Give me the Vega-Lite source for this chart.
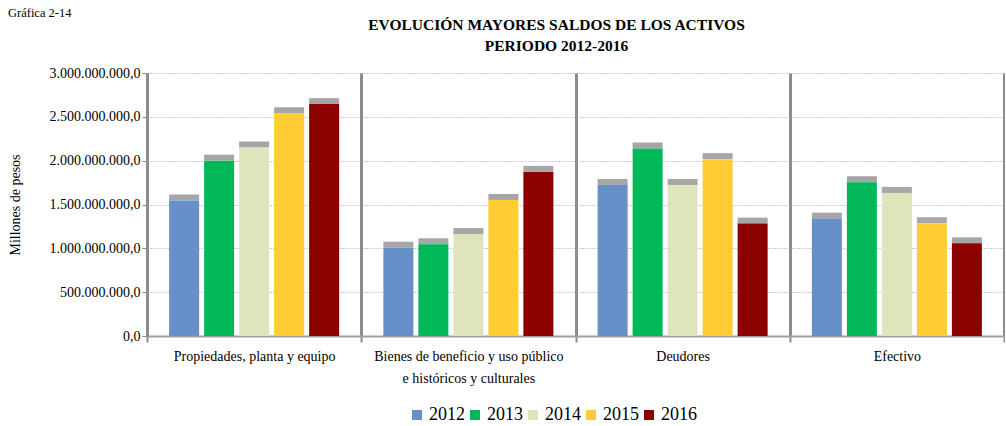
{
  "$schema": "https://vega.github.io/schema/vega-lite/v6.json",
  "background": "white",
  "padding": {"left": 8, "top": 7, "right": 0, "bottom": 0},
  "config": {
    "font": "Liberation Serif",
    "locale": {"number": {"decimal": ",", "thousands": ".", "grouping": [3], "currency": ["$", ""]}},
    "view": {"stroke": null}
  },
  "title": {"text": "Gráfica 2-14", "anchor": "start", "frame": "bounds", "font": "Liberation Serif", "fontSize": 12.5, "fontWeight": "normal", "color": "black", "offset": -2},
  "vconcat": [
    {
      "width": 857,
      "height": 263,
      "title": {
        "text": ["EVOLUCIÓN MAYORES SALDOS DE LOS ACTIVOS", "PERIODO 2012-2016"],
        "anchor": "middle",
        "font": "Liberation Serif",
        "fontSize": 15.5,
        "fontWeight": "bold",
        "color": "black",
        "lineHeight": 21,
        "dx": -19,
        "offset": 12
      },
      "data": {
        "values": [
          {"categoria": "Propiedades, planta y equipo", "anio": "2012", "valor": 1546000000},
          {"categoria": "Propiedades, planta y equipo", "anio": "2013", "valor": 2000000000},
          {"categoria": "Propiedades, planta y equipo", "anio": "2014", "valor": 2150000000},
          {"categoria": "Propiedades, planta y equipo", "anio": "2015", "valor": 2540000000},
          {"categoria": "Propiedades, planta y equipo", "anio": "2016", "valor": 2645000000},
          {"categoria": "Bienes de beneficio y uso público e históricos y culturales", "anio": "2012", "valor": 1008000000},
          {"categoria": "Bienes de beneficio y uso público e históricos y culturales", "anio": "2013", "valor": 1046000000},
          {"categoria": "Bienes de beneficio y uso público e históricos y culturales", "anio": "2014", "valor": 1163000000},
          {"categoria": "Bienes de beneficio y uso público e históricos y culturales", "anio": "2015", "valor": 1552000000},
          {"categoria": "Bienes de beneficio y uso público e históricos y culturales", "anio": "2016", "valor": 1872000000},
          {"categoria": "Deudores", "anio": "2012", "valor": 1723000000},
          {"categoria": "Deudores", "anio": "2013", "valor": 2139000000},
          {"categoria": "Deudores", "anio": "2014", "valor": 1723000000},
          {"categoria": "Deudores", "anio": "2015", "valor": 2017000000},
          {"categoria": "Deudores", "anio": "2016", "valor": 1282000000},
          {"categoria": "Efectivo", "anio": "2012", "valor": 1339000000},
          {"categoria": "Efectivo", "anio": "2013", "valor": 1754000000},
          {"categoria": "Efectivo", "anio": "2014", "valor": 1632000000},
          {"categoria": "Efectivo", "anio": "2015", "valor": 1286000000},
          {"categoria": "Efectivo", "anio": "2016", "valor": 1057000000}
        ]
      },
      "encoding": {
        "x": {
          "field": "categoria",
          "type": "nominal",
          "sort": ["Propiedades, planta y equipo", "Bienes de beneficio y uso público e históricos y culturales", "Deudores", "Efectivo"],
          "scale": {"paddingInner": 0, "paddingOuter": 0},
          "axis": {
            "title": null,
            "labelAngle": 0,
            "labelFont": "Liberation Serif",
            "labelFontSize": 14,
            "labelColor": "black",
            "labelLimit": 0,
            "labelPadding": 7,
            "labelLineHeight": 22,
            "labelExpr": "datum.value == 'Bienes de beneficio y uso público e históricos y culturales' ? ['Bienes de beneficio y uso público', 'e históricos y culturales'] : datum.value",
            "tickBand": "extent",
            "tickColor": "#8c8c8c",
            "tickWidth": 2,
            "tickSize": 6,
            "domainColor": "#a0a0a0",
            "domainWidth": 2,
            "grid": true,
            "gridColor": "#8c8c8c",
            "gridWidth": 3,
            "gridDash": []
          }
        },
        "xOffset": {
          "field": "anio",
          "type": "nominal",
          "scale": {"paddingInner": 0.143, "paddingOuter": 0.632}
        },
        "y": {
          "field": "valor",
          "type": "quantitative",
          "scale": {"domain": [0, 3000000000], "nice": false},
          "axis": {
            "title": "Millones  de  pesos",
            "titleFont": "Liberation Serif",
            "titleFontSize": 14,
            "titleFontWeight": "normal",
            "titleColor": "black",
            "titlePadding": 27,
            "values": [0, 500000000, 1000000000, 1500000000, 2000000000, 2500000000, 3000000000],
            "format": ",.1f",
            "labelFont": "Liberation Serif",
            "labelFontSize": 14,
            "labelColor": "black",
            "labelPadding": 2,
            "tickSize": 5,
            "tickColor": "#8c8c8c",
            "domainColor": "#8c8c8c",
            "domainWidth": 3,
            "grid": true,
            "gridColor": "#999999",
            "gridDash": [1, 2],
            "gridWidth": 1
          }
        }
      },
      "layer": [
        {
          "mark": {"type": "tick", "color": "#9c9c9c", "thickness": 6, "size": 30, "yOffset": -3, "opacity": 0.9},
          "encoding": {}
        },
        {
          "mark": {"type": "bar"},
          "encoding": {
            "color": {
              "field": "anio",
              "type": "nominal",
              "scale": {"domain": ["2012", "2013", "2014", "2015", "2016"], "range": ["#6690c7", "#00b858", "#e0e4bb", "#ffcc33", "#8b0000"]},
              "legend": {
                "orient": "none",
                "legendX": 261,
                "legendY": 333,
                "direction": "horizontal",
                "columns": 5,
                "title": null,
                "padding": 0,
                "symbolType": "square",
                "symbolSize": 100,
                "symbolStrokeWidth": 0,
                "labelFont": "Liberation Serif",
                "labelFontSize": 18,
                "labelColor": "black",
                "labelOffset": 3,
                "columnPadding": 1
              }
            }
          }
        }
      ]
    }
  ]
}
